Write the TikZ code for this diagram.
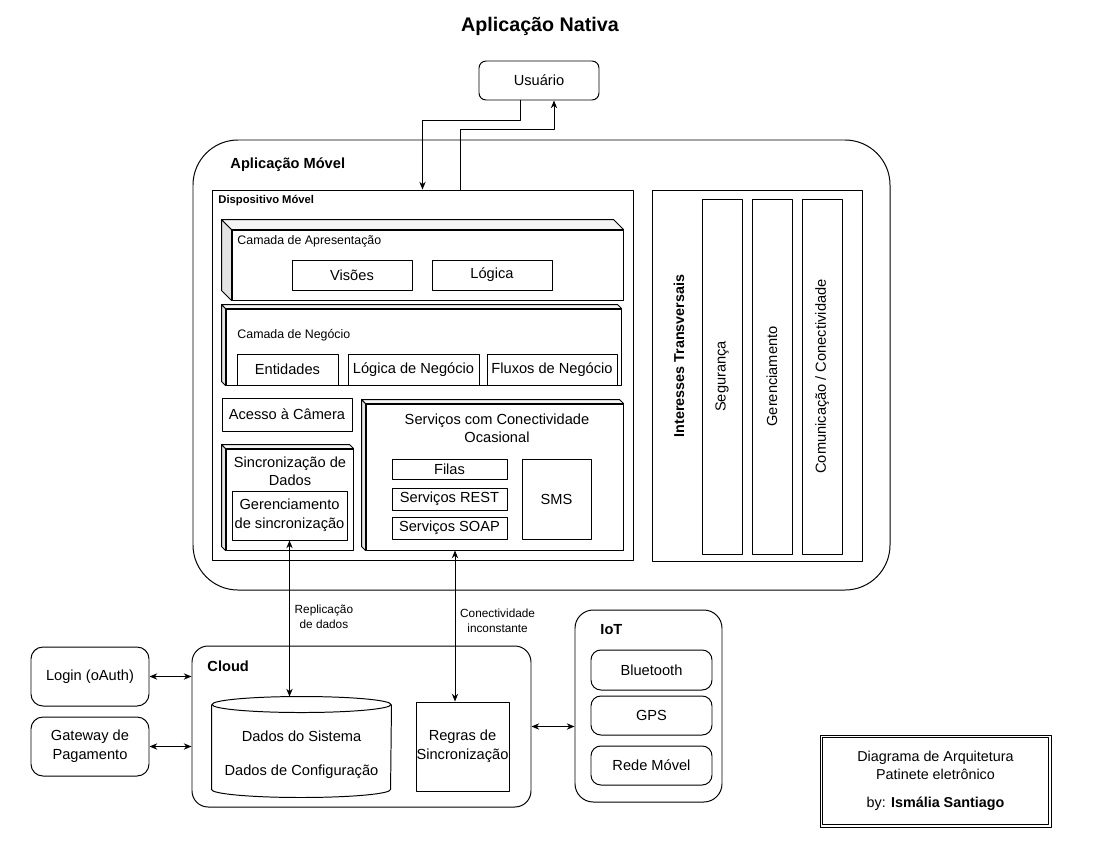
\documentclass[tikz,border=0pt]{standalone}
\usepackage{fontspec}
\setmainfont{Liberation Sans}
\usepackage{tikz}
\usetikzlibrary{arrows.meta,calc}
\tikzset{box/.style={draw, fill=white, inner sep=0pt, align=center, font=\fontsize{10.4}{13.5}\selectfont}}
\tikzset{rbox/.style={box, rounded corners=#1}}
\tikzset{wh/.style 2 args={minimum width=#1*0.025cm, minimum height=#2*0.025cm}}
\tikzset{hd/.style={font=\bfseries\fontsize{10.4}{12}\selectfont, inner sep=0pt, anchor=west}}
\tikzset{sm/.style={font=\fontsize{8.8}{10}\selectfont, inner sep=0pt, anchor=west}}
\tikzset{l/.style={font=\fontsize{8.4}{10.6}\selectfont, align=center}}
\tikzset{t/.style={font=\fontsize{10.4}{12.5}\selectfont, align=center}}
% side faces of a 3d layer
\newcommand{\cubefaces}[2]{%
  \filldraw[fill=gray!22] (#1.north west) -- ++(-#2,-#2) -- ($(#1.south west)+(-#2,-#2)$) -- (#1.south west) -- cycle;
  \filldraw[fill=gray!8] (#1.north west) -- ++(-#2,-#2) -- ($(#1.north east)+(-#2,-#2)$) -- (#1.north east) -- cycle;}

\begin{document}
\begin{tikzpicture}[x=0.025cm,y=-0.025cm,line width=0.7pt,line join=round,>={Stealth[length=5.5pt,width=4.5pt]}]
  \useasboundingbox (0,0) rectangle (1100,850);
  \node[font=\bfseries\fontsize{14}{16}\selectfont] (title) at (540,26) {Aplicação Nativa};
  \node[rbox=5pt, wh={120}{39}] (user) at (539,80.5) {Usuário};
  % aplicacao movel
  \node[rbox=32pt, wh={697}{450}] (app) at (541.5,365) {};
  \node[hd] (appt) at (230,165) {Aplicação Móvel};
  \node[box, wh={421}{370}] (dev) at (422.5,375) {};
  \node[hd, font=\bfseries\fontsize{8}{9}\selectfont] (devt) at (218,201) {Dispositivo Móvel};
  \node[box, wh={391}{70}] (apres) at (427.5,265) {};
  \cubefaces{apres}{10}
  \node[sm] (apresl) at (237,241) {Camada de Apresentação};
  \node[box, wh={120}{30}] (vis) at (352,275) {Visões};
  \node[box, wh={120}{30}] (logi) at (492,275) {Lógica};
  \node[box, wh={395}{76}] (neg) at (423.5,347) {};
  \cubefaces{neg}{4}
  \node[sm] (negl) at (237,335) {Camada de Negócio};
  \node[box, wh={101}{31}] (ent) at (287.5,369.5) {Entidades};
  \node[box, wh={131}{31}] (lneg) at (413.5,369.5) {Lógica de Negócio};
  \node[box, wh={130}{31}] (fneg) at (552,369.5) {Fluxos de Negócio};
  \node[box, wh={130}{33}] (cam) at (287,414.5) {Acesso à Câmera};
  \node[box, wh={127}{101}] (sinc) at (289.5,499.5) {};
  \cubefaces{sinc}{4}
  \node[t] (sinct) at (290,471.5) {Sincronização de\\Dados};
  \node[box, wh={115}{49}] (gsinc) at (289.5,515.5) {Gerenciamento\\de sincronização};
  \node[box, wh={257}{146}] (serv) at (494.5,477) {};
  \cubefaces{serv}{4}
  \node[t] (servt) at (497,428) {Serviços com Conectividade\\Ocasional};
  \node[box, wh={115}{20}] (filas) at (449.5,469) {Filas};
  \node[box, wh={115}{22}] (rest) at (449.5,499) {Serviços REST};
  \node[box, wh={115}{22}] (soap) at (449.5,528) {Serviços SOAP};
  \node[box, wh={69}{80}] (sms) at (556.5,499) {SMS};
  % interesses transversais
  \node[box, wh={210}{371}] (trans) at (757,375.5) {};
  \node[font=\bfseries\fontsize{10.2}{12}\selectfont, rotate=90] (transt) at (679,356) {Interesses Transversais};
  \node[box, rotate=90, wh={355}{40}] (seg) at (722,376.5) {Segurança};
  \node[box, rotate=90, wh={355}{40}] (ger) at (772,376.5) {Gerenciamento};
  \node[box, rotate=90, wh={355}{40}] (com) at (822,376.5) {Comunicação / Conectividade};
  % usuario
  \draw[->] ([shift={(-19,0)}]user.south) -- ++(0,20) -| (dev.north);
  \draw[->] ([shift={(37.5,0)}]dev.north) -- ++(0,-60) -| ([shift={(15,0)}]user.south);
  % cloud
  \node[rbox=11.5pt, wh={339}{161}] (cloud) at (361.5,726.5) {};
  \node[hd] (cloudt) at (207,666) {Cloud};
  \node[wh={179}{100}, inner sep=0pt] (db) at (301.5,747) {};
  \draw[fill=white] ($(db.north west)+(0,8)$) -- ($(db.south west)+(0,-8)$)
    arc[start angle=180, end angle=360, x radius=2.2375cm, y radius=0.2cm] -- ($(db.north east)+(0,8)$);
  \draw[fill=white] ($(db.north)+(0,8)$) ellipse[x radius=2.2375cm, y radius=0.2cm];
  \node[t] (dbs) at (301.5,736) {Dados do Sistema};
  \node[t] (dbc) at (301.5,772) {Dados de Configuração};
  \node[box, wh={93}{89}] (regras) at (462.5,746.5) {Regras de\\Sincronização};
  \node[rbox=8.5pt, wh={118}{59}] (login) at (90,676.5) {Login (oAuth)};
  \node[rbox=8.5pt, wh={118}{59}] (gate) at (90,746.5) {Gateway de\\Pagamento};
  % iot
  \node[rbox=13pt, wh={147}{192}] (iot) at (648.5,706) {};
  \node[hd] (iott) at (600,630) {IoT};
  \node[rbox=7pt, wh={121}{40}] (blue) at (651.5,670) {Bluetooth};
  \node[rbox=7pt, wh={121}{39}] (gps) at (651.5,715.5) {GPS};
  \node[rbox=7pt, wh={121}{39}] (rede) at (651.5,765.5) {Rede Móvel};
  % conexoes
  \draw[<->] (gsinc.south) -- node[l, right, yshift=1pt] (repl) {Replicação\\de dados} (gsinc.south |- db.north);
  \coordinate (ctop) at ($(regras.north |- serv.south)+(-7.5,0)$);
  \coordinate (cbot) at ($(regras.north)+(-7.5,0)$);
  \draw[<->] (ctop) -- node[l, right, yshift=4pt] (conl) {Conectividade\\inconstante} (cbot);
  \draw[<->] (login.east) -- (login.east -| cloud.west);
  \draw[<->] (gate.east) -- (gate.east -| cloud.west);
  \draw[<->] (cloud.east) -- (cloud.east -| iot.west);
  % legenda
  \node[box, wh={231}{92}, font=\fontsize{10.2}{12.75}\selectfont] (leg) at (935.5,781)
    {Diagrama de Arquitetura\\Patinete eletrônico\\[7pt]by: \textbf{Ismália Santiago}};
  \draw ([shift={(3,3)}]leg.north west) rectangle ([shift={(-3,-3)}]leg.south east);
\end{tikzpicture}
\end{document}
